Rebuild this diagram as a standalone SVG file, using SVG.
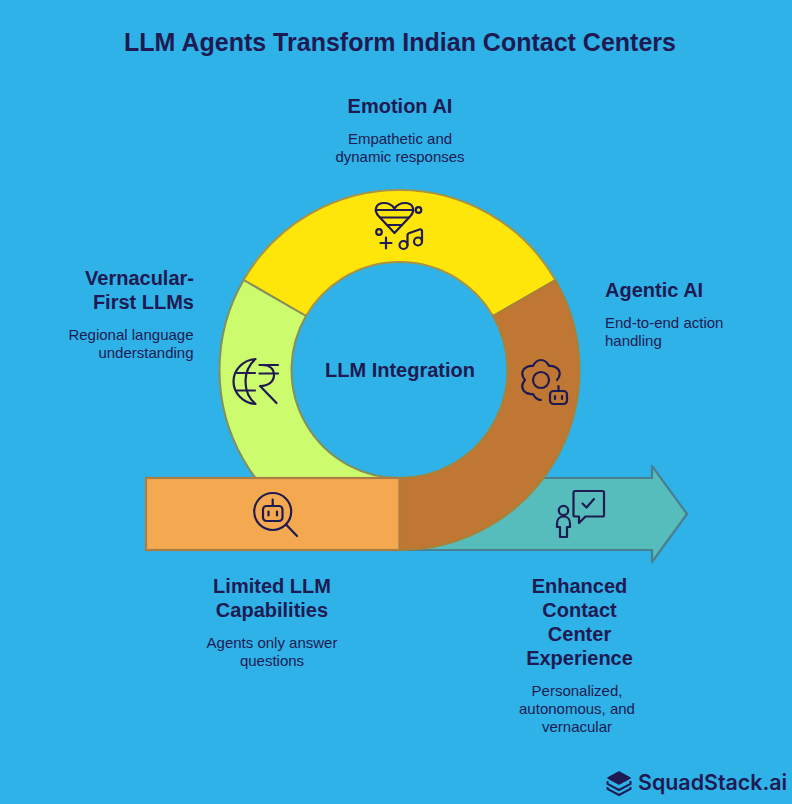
<svg xmlns="http://www.w3.org/2000/svg" width="792" height="804" viewBox="0 0 792 804">
<style>
text{font-family:"Liberation Sans",Arial,sans-serif;fill:#1f1a52}
.t{font-size:25px;font-weight:700;text-anchor:middle}
.h{font-size:20px;font-weight:700;text-anchor:middle}
.he{font-size:20px;font-weight:700;text-anchor:end}
.hs{font-size:20px;font-weight:700}
.d{font-size:15px;text-anchor:middle}
.de{font-size:15px;text-anchor:end}
.ds{font-size:15px}
.ic{fill:none;stroke:#1f1a52;stroke-width:2.2;stroke-linecap:round;stroke-linejoin:round}
</style>
<rect width="792" height="804" fill="#2eb2e8"/>
<text class="t" x="400" y="51">LLM Agents Transform Indian Contact Centers</text>
<g id="connectors"/>
<g id="arrow-enhanced">
<path d="M399.500 478H652V466L687 514L652 562V550H399.500Z" fill="#56bcbc" stroke="#4a7f8f" stroke-width="2.200" stroke-linejoin="round"/>
<g class="ic">
<circle cx="563.500" cy="510.500" r="4.700"/>
<path d="M563.500 516.500C559.500 516.500 557 519.500 557 523.500V527H560V537H567V527H570V523.500C570 519.500 567.500 516.500 563.500 516.500Z"/>
<path d="M575 491H602.500Q604 491 604 492.500V515Q604 516.500 602.500 516.500H585.500L579 523V516.500H575Q573.500 516.500 573.500 515V492.500Q573.500 491 575 491Z"/>
<path d="M582.500 503.500L586.500 507.500L594 499"/>
</g>
</g>
<g id="ring-emotion">
<path d="M243.600 280A180 180 0 0 1 555.400 280L493 316A108 108 0 0 0 306 316Z" fill="#ffe60a" stroke="#a79344" stroke-width="2"/>
<g class="ic">
<path d="M394.500 233L379 216.500C373 210 376 203 384 203C389 203 392 205 394.500 208.500C397 205 400 203 405 203C413 203 416 210 410 216.500Z"/>
<path d="M376.500 210H412.500M380.500 217.500H408.500M387 225H402"/>
<circle cx="418.500" cy="210" r="2.800"/><circle cx="379" cy="232" r="2.800"/>
<path d="M380.500 243H391.500M386 237.500V248.500"/>
<circle cx="403.500" cy="245" r="4"/><circle cx="418" cy="241.500" r="4"/>
<path d="M407.500 245V235.500Q407.500 233.500 409.500 233L419.500 229.500Q422 229 422 231V241.500"/>
</g>
</g>
<g id="ring-vernacular">
<path d="M243.600 280L306 316A108 108 0 0 0 399.500 478V550A180 180 0 0 1 243.600 280Z" fill="#ccfb6e" stroke="#858f57" stroke-width="2"/>
<g class="ic">
<path d="M255.500 359C243 360 233.500 370 233.500 381.500C233.500 393 243 403 255.500 404C248.500 398 245.500 390 245.500 381.500C245.500 373 248.500 365 255.500 359Z"/>
<path d="M237 373H255M237 390.500H255"/>
<path d="M259.500 365H278M259.500 373.500H278M262 365C270 365 274 369 274 375C274 382 268 386 260 386L276.500 403"/>
</g>
</g>
<g id="ring-agentic">
<path d="M555.400 280L493 316A108 108 0 0 1 399.500 478V550A180 180 0 0 0 555.400 280Z" fill="#bf7733" stroke="#a68238" stroke-width="2"/>
<g class="ic">
<circle cx="541" cy="380" r="8"/>
<path d="M557 380Q562 374 558 369Q554 365 549 366Q546 360 541 360Q536 360 533 366Q528 365 524 369Q520 374 525 380Q520 386 524 391Q528 395 533 394Q536 400 541 400"/>
<rect x="550" y="391" width="17" height="13" rx="3.500"/>
<path d="M558.500 391V386M555 396V399M562 396V399"/>
</g>
</g>
<g id="limited">
<rect x="146" y="478" width="253.500" height="72" fill="#f4a950" stroke="#ad7c42" stroke-width="2.200"/>
<g class="ic">
<circle cx="272.700" cy="511.500" r="18.500"/>
<path d="M286.500 525L297 536"/>
<rect x="263" y="506" width="19.500" height="15" rx="3.500"/>
<path d="M272.700 506V499.500M268.500 511.500V515.500M277 511.500V515.500"/>
</g>
</g>
<g id="center"><text class="h" x="400" y="377">LLM Integration</text></g>
<g id="label-emotion"><text class="h" x="400" y="113">Emotion AI</text><text class="d" x="400" y="144">Empathetic and</text><text class="d" x="400" y="162">dynamic responses</text></g>
<g id="label-vernacular"><text class="he" x="194" y="285">Vernacular-</text><text class="he" x="194" y="309">First LLMs</text><text class="de" x="193.500" y="340">Regional language</text><text class="de" x="193.500" y="358">understanding</text></g>
<g id="label-agentic"><text class="hs" x="605" y="297">Agentic AI</text><text class="ds" x="605" y="328">End-to-end action</text><text class="ds" x="605" y="346">handling</text></g>
<g id="label-limited"><text class="h" x="272" y="593">Limited LLM</text><text class="h" x="272" y="617">Capabilities</text><text class="d" x="272" y="648">Agents only answer</text><text class="d" x="272" y="666">questions</text></g>
<g id="label-enhanced"><text class="h" x="579.500" y="593">Enhanced</text><text class="h" x="579.500" y="617">Contact</text><text class="h" x="579.500" y="641">Center</text><text class="h" x="579.500" y="665">Experience</text><text class="d" x="577" y="696">Personalized,</text><text class="d" x="577" y="714">autonomous, and</text><text class="d" x="577" y="732">vernacular</text></g>
<g id="logo">
<path d="M619 772L630 778L619 784L608 778Z" fill="#1f1a52" stroke="#1f1a52" stroke-width="1.500" stroke-linejoin="round"/>
<path d="M607.500 781V784L619 790L630.500 784V781M607.500 787V789L619 795L630.500 789V787" fill="none" stroke="#1f1a52" stroke-width="2"/>
<text x="638" y="790" style="font-family:Inter,'Liberation Sans',sans-serif;font-size:21.400px;font-weight:600">SquadStack.ai</text>
</g>
</svg>
